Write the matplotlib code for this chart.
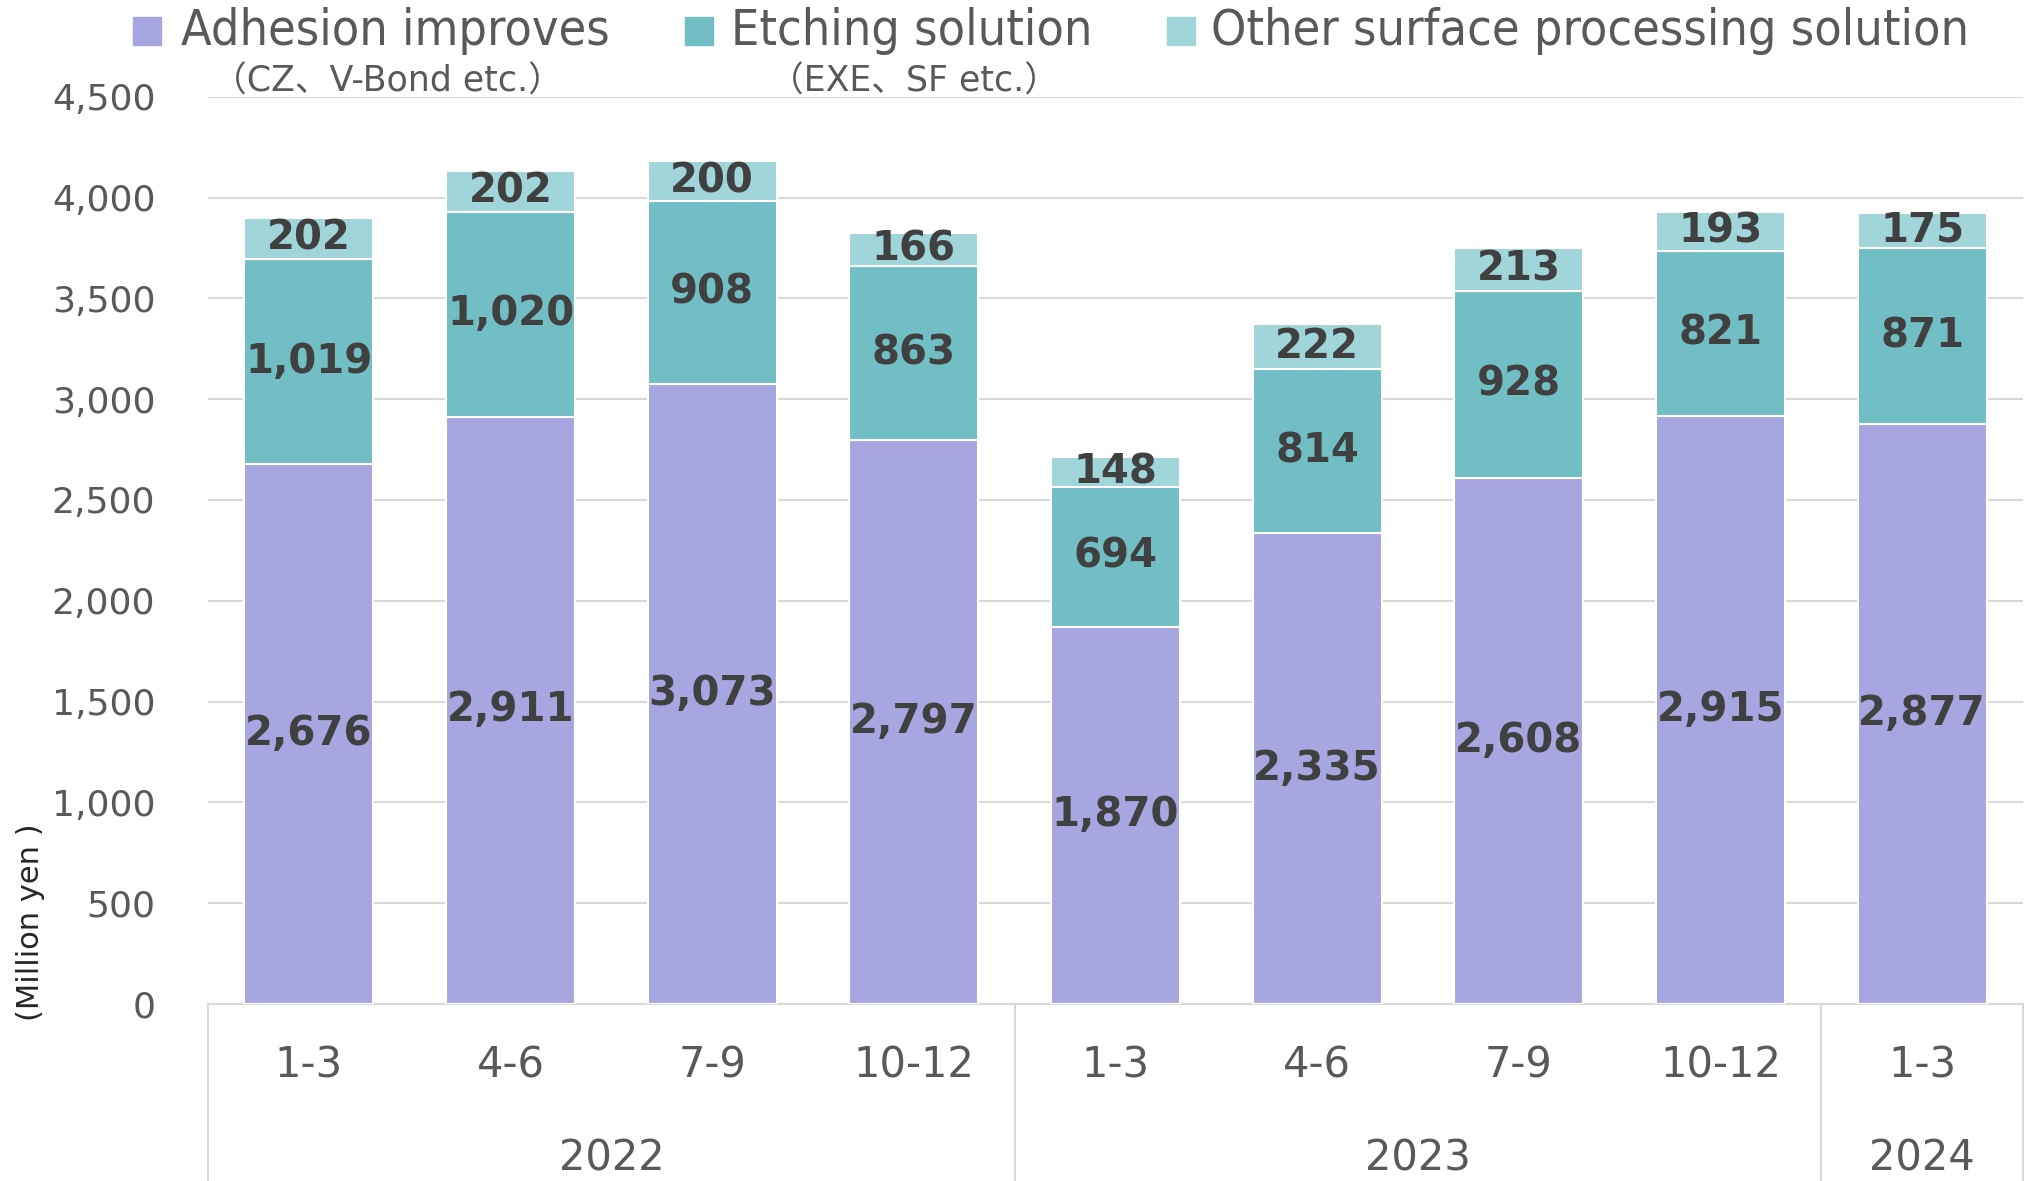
import matplotlib
matplotlib.use("Agg")
import matplotlib.pyplot as plt
from matplotlib.patches import Rectangle
import numpy as np

quarters = ["1-3", "4-6", "7-9", "10-12", "1-3", "4-6", "7-9", "10-12", "1-3"]
years = ["2022", "2023", "2024"]
year_spans = [(0, 3), (4, 7), (8, 8)]

adhesion = [2676, 2911, 3073, 2797, 1870, 2335, 2608, 2915, 2877]
etching = [1019, 1020, 908, 863, 694, 814, 928, 821, 871]
other = [202, 202, 200, 166, 148, 222, 213, 193, 175]

series = [
    ("Adhesion improves", "（CZ、V-Bond etc.）", adhesion, "#A7A6E0"),
    ("Etching solution", "（EXE、SF etc.）", etching, "#71BEC4"),
    ("Other surface processing solution", None, other, "#A0D5D9"),
]

MIXED = ["DejaVu Sans", "Noto Sans CJK JP"]
TXT = "#595959"

fig = plt.figure(figsize=(20.26, 11.81), dpi=100)
ax = fig.add_axes([0.1027, 0.150, 0.8958, 0.768])

x = np.arange(len(quarters))
bottom = np.zeros(len(quarters))
for name, sub, vals, color in series:
    vals = np.array(vals, dtype=float)
    ax.bar(x, vals, 0.64, bottom=bottom, color=color,
           edgecolor="white", linewidth=1.5, zorder=2)
    for xi, b, v in zip(x, bottom, vals):
        ax.text(xi, b + v / 2, f"{int(v):,}", ha="center", va="center",
                fontsize=29, fontweight="bold", color="#404040",
                family="DejaVu Sans", zorder=3)
    bottom += vals

ax.set_xlim(-0.5, len(quarters) - 0.5)
ax.set_ylim(0, 4500)
ax.set_yticks(np.arange(0, 4501, 500))
ax.set_yticklabels([f"{v:,}" for v in range(0, 4501, 500)])
ax.tick_params(axis="y", length=0, pad=38, labelsize=26, labelcolor=TXT)
ax.set_xticks([])
ax.yaxis.grid(True, color="#D9D9D9", linewidth=1.5, zorder=0)
ax.set_axisbelow(True)
for s in ax.spines.values():
    s.set_visible(False)

# two-level category axis
tr = ax.get_xaxis_transform()
ax.plot([-0.5, len(quarters) - 0.5], [0, 0], color="#D9D9D9", lw=1.5,
        transform=tr, clip_on=False, zorder=1)
for sep in [-0.5, 3.5, 7.5, 8.5]:
    ax.plot([sep, sep], [0, -0.21], color="#D9D9D9", lw=1.5,
            transform=tr, clip_on=False)
for xi, q in zip(x, quarters):
    ax.text(xi, -0.068, q, transform=tr, ha="center", va="center",
            fontsize=30, color=TXT)
for yr, (a, b) in zip(years, year_spans):
    ax.text((a + b) / 2, -0.17, yr, transform=tr, ha="center", va="center",
            fontsize=30, color=TXT)

fig.text(0.0153, 0.219, "(Million yen )", rotation=90, ha="center", va="center",
         fontsize=22, color="#262626")

# legend drawn along the top edge
leg_x = [0.0657, 0.338, 0.576]
txt_x = [0.0893, 0.361, 0.5976]
sub_x = [0.1046, 0.3795]
for i, (name, sub, vals, color) in enumerate(series):
    fig.patches.append(Rectangle((leg_x[i], 0.962), 0.0138, 0.0237,
                                 transform=fig.transFigure, color=color))
    fig.text(txt_x[i], 0.962, name, ha="left", va="baseline",
             fontsize=36, fontstretch="condensed", color=TXT)
    if sub:
        fig.text(sub_x[i], 0.931, sub, ha="left", va="center",
                 fontsize=25, color=TXT, family=MIXED)

fig.savefig("out.png", dpi=100)
